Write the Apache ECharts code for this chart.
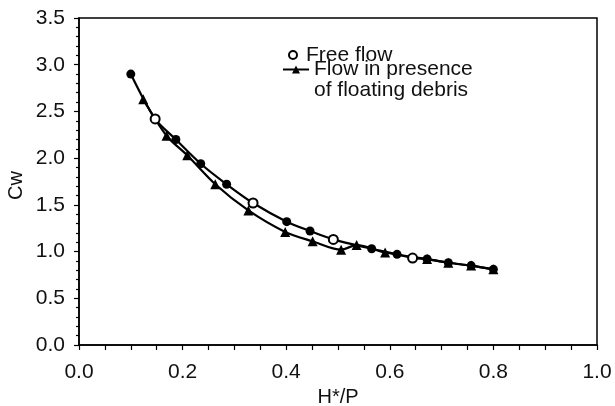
<!DOCTYPE html>
<html><head><meta charset="utf-8">
<script src="https://cdn.jsdelivr.net/npm/echarts@6/dist/echarts.min.js"></script>
<style>html,body{margin:0;padding:0;background:#fff}#c{width:615px;height:406px}</style>
</head><body><div id="c"></div>
<script>
// ---- data ----
const freeX   = [0.100, 0.147, 0.187, 0.235, 0.285, 0.336, 0.401, 0.446, 0.491, 0.565, 0.614, 0.644, 0.672, 0.713, 0.757, 0.800];
const freeY   = [2.90,  2.42,  2.20,  1.94,  1.72,  1.52,  1.32,  1.22,  1.13,  1.03,  0.97,  0.93,  0.92,  0.88,  0.85,  0.81];
const debrisX = [0.124, 0.169, 0.209, 0.263, 0.327, 0.398, 0.451, 0.506, 0.536, 0.591, 0.672, 0.713, 0.757, 0.800];
const debrisY = [2.63,  2.24,  2.03,  1.72,  1.44,  1.21,  1.11,  1.02,  1.07,  0.99,  0.92,  0.88,  0.85,  0.81];
const seriesNames = ['Free flow', 'Flow in presence\nof floating debris'];
const xTickLabels = ['0.0', '0.2', '0.4', '0.6', '0.8', '1.0'];
const yTickLabels = ['0.0', '0.5', '1.0', '1.5', '2.0', '2.5', '3.0', '3.5'];
const xName = 'H*/P';
const yName = 'Cw';
// indices of free-flow points printed as hollow circles (style only)
const hollowIdx = [1, 5, 8, 11];

const FONT = 'Liberation Sans, Arial, Helvetica, sans-serif';
const chart = echarts.init(document.getElementById('c'), null, {renderer: 'canvas'});

const freeData = freeX.map((x, i) => {
  const d = {value: [x, freeY[i]]};
  if (hollowIdx.includes(i)) d.itemStyle = {color: '#fff', borderColor: '#000', borderWidth: 2};
  return d;
});
const debrisData = debrisX.map((x, i) => [x, debrisY[i]]);

chart.setOption({
  animation: false,
  backgroundColor: '#fff',
  grid: {left: 79, right: 18, top: 18, bottom: 61, containLabel: false, outerBoundsMode: 'none',
    show: true, borderColor: '#000', borderWidth: 1.5, backgroundColor: 'transparent'},
  xAxis: {
    type: 'value', min: 0, max: 1, interval: 0.2,
    name: xName, nameLocation: 'middle', nameGap: 40,
    nameTextStyle: {fontFamily: FONT, fontSize: 20, color: '#111'},
    axisLine: {onZero: false, lineStyle: {color: '#000', width: 1.5}},
    axisTick: {show: true, length: 5, lineStyle: {color: '#000', width: 1.2}},
    minorTick: {show: true, splitNumber: 4, length: 5, lineStyle: {color: '#000', width: 1.2}},
    splitLine: {show: false},
    axisLabel: {margin: 17, color: '#111', fontFamily: FONT, fontSize: 21,
      formatter: v => xTickLabels[Math.round(v / 0.2)]}
  },
  yAxis: {
    type: 'value', min: 0, max: 3.5, interval: 0.5,
    axisLine: {onZero: false, lineStyle: {color: '#000', width: 1.5}},
    axisTick: {show: true, length: 5, lineStyle: {color: '#000', width: 1.2}},
    minorTick: {show: true, splitNumber: 5, length: 3, lineStyle: {color: '#000', width: 1.2}},
    splitLine: {show: false},
    axisLabel: {margin: 14, color: '#111', fontFamily: FONT, fontSize: 21,
      formatter: v => yTickLabels[Math.round(v / 0.5)]}
  },
  legend: [
    {data: [{name: seriesNames[0], icon: 'circle', itemStyle: {color: '#fff', borderColor: '#000', borderWidth: 2}}],
     left: 288, top: 44, padding: 0, itemWidth: 8, itemHeight: 8,
     textStyle: {fontFamily: FONT, fontSize: 21, lineHeight: 22, color: '#111', padding: [0, 0, 0, 4]}},
    {data: [{name: seriesNames[1]}],
     left: 282, top: 38, padding: 0, itemWidth: 26, itemHeight: 10,
     formatter: n => '\n' + n,
     textStyle: {fontFamily: FONT, fontSize: 21, color: '#111', lineHeight: 21}}
  ],
  graphic: [
    {type: 'text', x: 6, y: 200, rotation: Math.PI / 2, style: {text: yName, font: '20px ' + FONT, fill: '#111'}}
  ],
  series: [
    {name: seriesNames[0], type: 'line', data: freeData, smooth: 0.3,
     symbol: 'circle', symbolSize: 9,
     lineStyle: {color: '#000', width: 2.2}, itemStyle: {color: '#000'}, z: 3},
    {name: seriesNames[1], type: 'line', data: debrisData, smooth: 0.3,
     symbol: 'triangle', symbolSize: 10,
     lineStyle: {color: '#000', width: 2.2}, itemStyle: {color: '#000'}, z: 2}
  ]
});
</script></body></html>
